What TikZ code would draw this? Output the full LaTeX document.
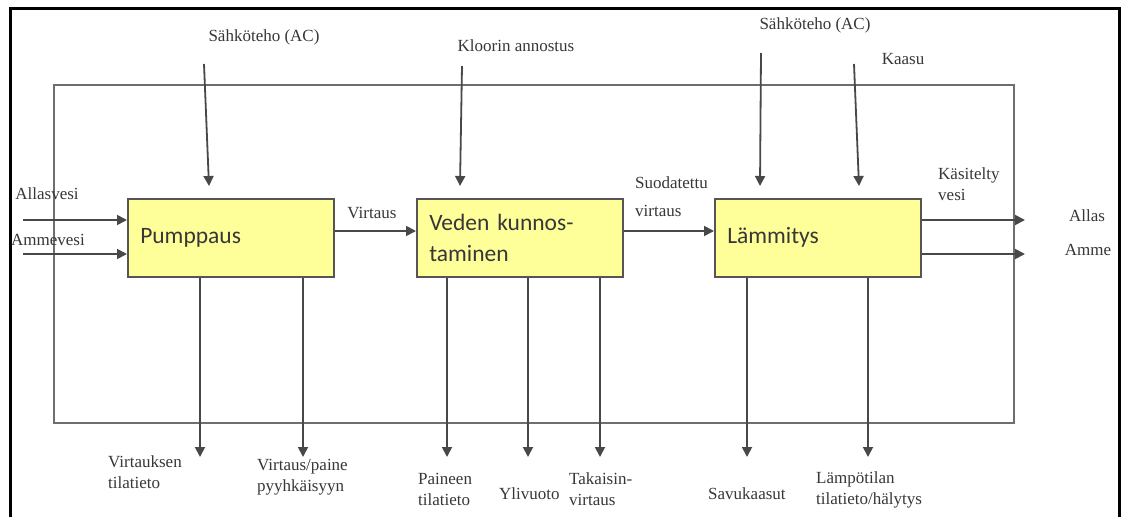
\documentclass[tikz,border=0pt]{standalone}
\usepackage{fontspec}
\setmainfont{Liberation Serif}
\newfontfamily\blockfont{Carlito}
\usetikzlibrary{arrows.meta}

\definecolor{linegray}{RGB}{72,72,72}
\definecolor{boundgray}{RGB}{110,110,110}
\definecolor{blockfill}{RGB}{255,255,153}
\definecolor{blockedge}{RGB}{85,85,85}
\definecolor{labeltext}{RGB}{55,55,55}

\tikzset{
  screenframe/.style={draw=black, line width=3pt},
  sysbound/.style={draw=boundgray, line width=2pt},
  block/.style={draw=blockedge, fill=blockfill, line width=1.5pt,
    anchor=north west, minimum height=78pt, text width=181pt,
    inner xsep=12.5pt, align=left, text=labeltext,
    font=\blockfont\fontsize{23.5}{31}\selectfont},
  lab/.style={inner sep=0pt, text=labeltext, align=left,
    font=\fontsize{17}{21}\selectfont},
  flow/.style={draw=linegray, line width=1.8pt,
    -{Triangle[length=10pt,width=10pt]}},
}

\begin{document}
\begin{tikzpicture}[x=1pt,y=-1pt]
\useasboundingbox (0,0) rectangle (1124,517);
\fill[white] (0,0) rectangle (1124,517);

% window edge
\draw[screenframe] (10,517) -- (10,8) -- (1119,8) -- (1119,517);

% system boundary
\draw[sysbound] (54,85) rectangle (1014,423);

% process blocks
\node[block] (pump) at (127,198) {Pumppaus};
\node[block] (treat) at (416,198) {Veden kunnos-\\taminen};
\node[block] (heat) at (714,198) {Lämmitys};

% input / control labels above
\node[lab] (powA) at (264,37) {Sähköteho (AC)};
\node[lab] (chlor) at (516,46) {Kloorin annostus};
\node[lab] (powB) at (815,25) {Sähköteho (AC)};
\node[lab] (gas) at (903,59) {Kaasu};

% incoming water
\node[lab] (poolin) at (47,194) {Allasvesi};
\node[lab] (tubin) at (48,240) {Ammevesi};

% flow labels between blocks
\node[lab] (flowlab) at (372,213) {Virtaus};
\node[lab, anchor=west] (filtlab) at (635,197) {Suodatettu\\[7pt]virtaus};
\node[lab, anchor=west] (donelab) at (938,184) {Käsitelty\\vesi};
\node[lab] (pool) at (1087,216) {Allas};
\node[lab] (tub) at (1088,250) {Amme};

% output labels below
\node[lab, anchor=west] (o1) at (108,472) {Virtauksen\\tilatieto};
\node[lab, anchor=west] (o2) at (257,477) {Virtaus/paine\\pyyhkäisyyn};
\node[lab, anchor=west] (o3) at (418,489) {Paineen\\tilatieto};
\node[lab, anchor=west] (o4) at (499,494) {Ylivuoto};
\node[lab, anchor=west] (o5) at (569,489) {Takaisin-\\virtaus};
\node[lab, anchor=west] (o6) at (708,494) {Savukaasut};
\node[lab, anchor=west] (o7) at (816,490) {Lämpötilan\\tilatieto/hälytys};

% arrow end points
\coordinate (a1s) at (204,64);  \coordinate (a1e) at (209,186);
\coordinate (a2s) at (462,66);  \coordinate (a2e) at (460,186);
\coordinate (a3s) at (761,53);  \coordinate (a3e) at (760,186);
\coordinate (a4s) at (854,64);  \coordinate (a4e) at (859,186);
\coordinate (i1) at (23,220);
\coordinate (i2) at (23,254);
\coordinate (r1) at (1025,220);
\coordinate (r2) at (1025,254);
\coordinate (b1) at (200,457);
\coordinate (b2) at (303,457);
\coordinate (b3) at (447,457);
\coordinate (b4) at (528,457);
\coordinate (b5) at (600,457);
\coordinate (b6) at (747,457);
\coordinate (b7) at (868,457);

% control inputs
\draw[flow] (a1s) -- (a1e);
\draw[flow] (a2s) -- (a2e);
\draw[flow] (a3s) -- (a3e);
\draw[flow] (a4s) -- (a4e);

% water path
\draw[flow] (i1) -- (i1 -| pump.west);
\draw[flow] (i2) -- (i2 -| pump.west);
\draw[flow] (pump.east |- 0,231) -- (treat.west |- 0,231);
\draw[flow] (treat.east |- 0,231) -- (heat.west |- 0,231);
\draw[flow] (heat.east |- r1) -- (r1);
\draw[flow] (heat.east |- r2) -- (r2);

% outputs
\draw[flow] (pump.south -| b1) -- (b1);
\draw[flow] (pump.south -| b2) -- (b2);
\draw[flow] (treat.south -| b3) -- (b3);
\draw[flow] (treat.south -| b4) -- (b4);
\draw[flow] (treat.south -| b5) -- (b5);
\draw[flow] (heat.south -| b6) -- (b6);
\draw[flow] (heat.south -| b7) -- (b7);

% redraw blocks on top of lines
\node[block] at (127,198) {Pumppaus};
\node[block] at (416,198) {Veden kunnos-\\taminen};
\node[block] at (714,198) {Lämmitys};
\end{tikzpicture}
\end{document}
